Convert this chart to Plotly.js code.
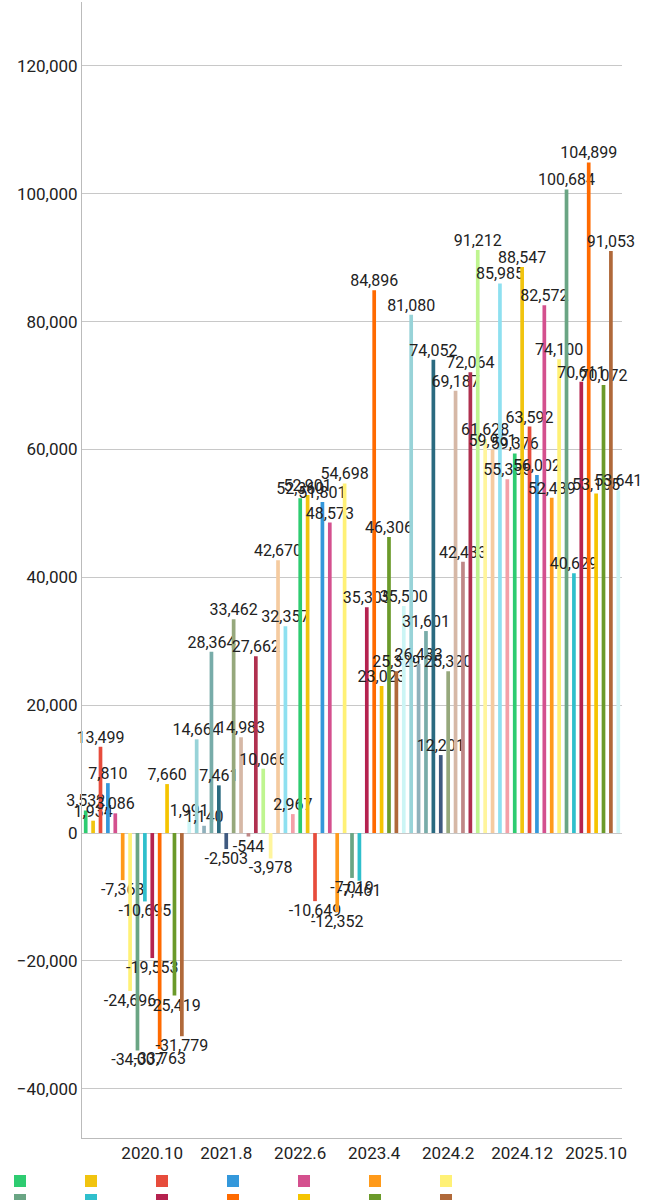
<!DOCTYPE html>
<html><head><meta charset="utf-8">
<script src="https://cdn.plot.ly/plotly-3.0.1.min.js"></script>
<style>body{margin:0;background:#fff}#c{width:652px;height:1200px}</style>
</head><body><div id="c"></div>
<script>
const months = [];
for (let y = 2020; y <= 2026; y++) for (let m = 1; m <= 12; m++) if (months.length < 73) months.push(y + '.' + m);
const values = [3532,1934,13499,7810,3086,-7363,-24696,-34007,-10695,-19553,
  -33763,7660,-25419,-31779,1991,14664,1140,28364,7461,-2503,
  33462,14983,-544,27662,10066,-3978,42670,32357,2967,52360,
  52901,-10649,51801,48573,-12352,54698,-7019,-7461,35305,84896,
  23023,46306,25329,35500,81080,26483,31601,74052,12201,25320,
  69187,42433,72064,91212,61628,59951,85985,55355,59376,88547,
  63592,56002,82572,52439,74100,100684,40629,70611,104899,53105,
  70072,91053,53641];
const palette = ['#2ecc71','#f1c40f','#e74c3c','#3498db','#d4508e','#ff9a1a','#fff176','#6aa584','#2fbfcc','#b5224f',
  '#ff6a00','#f5c400','#6b9a2a','#b0693a','#ccf5f5','#98d3d8','#8fb0bb','#78aca9','#2a6a80','#3f5a80',
  '#96a87c','#d6b8a6','#bf8787','#b0304f','#bff590','#fff59d','#f5cba0','#8ee0f0','#f4a0a8'];
const tickLabels = ['2020.10','2021.8','2022.6','2023.4','2024.2','2024.12','2025.10'];

const traces = months.map((m, i) => ({
  type: 'bar', x: [m], y: [values[i]], name: '',
  showlegend: i < 24,
  marker: {color: palette[i % palette.length], line: {width: 0}},
  width: 0.5,
  texttemplate: '%{y:,}', textposition: 'outside', cliponaxis: false,
  constraintext: 'none',
  textfont: {size: 16, color: '#222', family: 'Roboto'},
  hoverinfo: 'y'
}));

Plotly.newPlot('c', traces, {
  width: 652, height: 1200,
  margin: {l: 82, r: 30, t: 2, b: 62, autoexpand: false},
  barmode: 'overlay',
  showlegend: true,
  legend: {orientation: 'h', x: 0.0, xref: 'container', y: 0.028, yref: 'container', yanchor: 'top',
    font: {size: 1}, entrywidth: 26, entrywidthmode: 'pixels', itemwidth: 30, tracegroupgap: 0},
  font: {family: 'Roboto', color: '#222'},
  xaxis: {type: 'category', categoryorder: 'array', categoryarray: months,
    tickvals: tickLabels, ticktext: tickLabels, tickfont: {size: 17},
    showline: true, linecolor: '#bbb', showgrid: false, ticks: ''},
  yaxis: {range: [-47700, 130000], tickvals: [-40000,-20000,0,20000,40000,60000,80000,100000,120000],
    tickformat: ',', tickfont: {size: 17}, showline: true, linecolor: '#bbb',
    gridcolor: '#c8c8c8', zeroline: false, ticks: ''},
  plot_bgcolor: '#fff', paper_bgcolor: '#fff'
}, {displayModeBar: false});
</script></body></html>
